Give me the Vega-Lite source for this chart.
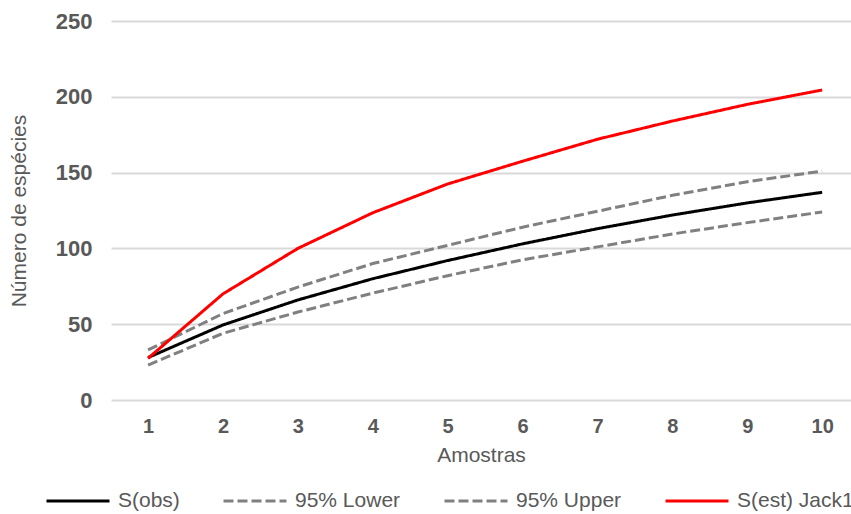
{
  "$schema": "https://vega.github.io/schema/vega-lite/v6.json",
  "width": 740,
  "height": 379,
  "autosize": {"type": "none"},
  "padding": {"left": 111, "top": 21, "right": 0, "bottom": 114},
  "background": "white",
  "config": {
    "view": {"stroke": null},
    "font": "Liberation Sans"
  },
  "data": {
    "values": [
      {"amostra": 1, "serie": "S(obs)", "valor": 28},
      {"amostra": 2, "serie": "S(obs)", "valor": 49.5},
      {"amostra": 3, "serie": "S(obs)", "valor": 66},
      {"amostra": 4, "serie": "S(obs)", "valor": 80},
      {"amostra": 5, "serie": "S(obs)", "valor": 92},
      {"amostra": 6, "serie": "S(obs)", "valor": 103},
      {"amostra": 7, "serie": "S(obs)", "valor": 113},
      {"amostra": 8, "serie": "S(obs)", "valor": 122},
      {"amostra": 9, "serie": "S(obs)", "valor": 130},
      {"amostra": 10, "serie": "S(obs)", "valor": 137},
      {"amostra": 1, "serie": "95% Lower", "valor": 23},
      {"amostra": 2, "serie": "95% Lower", "valor": 44},
      {"amostra": 3, "serie": "95% Lower", "valor": 58},
      {"amostra": 4, "serie": "95% Lower", "valor": 70.5},
      {"amostra": 5, "serie": "95% Lower", "valor": 82},
      {"amostra": 6, "serie": "95% Lower", "valor": 92.5},
      {"amostra": 7, "serie": "95% Lower", "valor": 101},
      {"amostra": 8, "serie": "95% Lower", "valor": 109.5},
      {"amostra": 9, "serie": "95% Lower", "valor": 117},
      {"amostra": 10, "serie": "95% Lower", "valor": 124},
      {"amostra": 1, "serie": "95% Upper", "valor": 33},
      {"amostra": 2, "serie": "95% Upper", "valor": 57},
      {"amostra": 3, "serie": "95% Upper", "valor": 74.5},
      {"amostra": 4, "serie": "95% Upper", "valor": 90},
      {"amostra": 5, "serie": "95% Upper", "valor": 102},
      {"amostra": 6, "serie": "95% Upper", "valor": 114},
      {"amostra": 7, "serie": "95% Upper", "valor": 124.5},
      {"amostra": 8, "serie": "95% Upper", "valor": 135},
      {"amostra": 9, "serie": "95% Upper", "valor": 144},
      {"amostra": 10, "serie": "95% Upper", "valor": 151},
      {"amostra": 1, "serie": "S(est) Jack1", "valor": 27.5},
      {"amostra": 2, "serie": "S(est) Jack1", "valor": 70},
      {"amostra": 3, "serie": "S(est) Jack1", "valor": 100},
      {"amostra": 4, "serie": "S(est) Jack1", "valor": 123.5},
      {"amostra": 5, "serie": "S(est) Jack1", "valor": 142.5},
      {"amostra": 6, "serie": "S(est) Jack1", "valor": 157.5},
      {"amostra": 7, "serie": "S(est) Jack1", "valor": 172},
      {"amostra": 8, "serie": "S(est) Jack1", "valor": 184},
      {"amostra": 9, "serie": "S(est) Jack1", "valor": 195},
      {"amostra": 10, "serie": "S(est) Jack1", "valor": 204.5}
    ]
  },
  "mark": {"type": "line", "strokeWidth": 3, "strokeCap": "butt"},
  "encoding": {
    "x": {
      "field": "amostra",
      "type": "quantitative",
      "scale": {"domain": [0.505, 10.385], "nice": false, "zero": false},
      "axis": {
        "title": "Amostras",
        "values": [1, 2, 3, 4, 5, 6, 7, 8, 9, 10],
        "format": "d",
        "grid": false,
        "domain": false,
        "ticks": false,
        "tickSize": 0,
        "labelFont": "Liberation Sans",
        "labelFontWeight": "bold",
        "labelFontSize": 20,
        "labelColor": "#595959",
        "labelPadding": 16,
        "titleFont": "Liberation Sans",
        "titleFontWeight": "normal",
        "titleFontSize": 21,
        "titleColor": "#595959",
        "titlePadding": 8
      }
    },
    "y": {
      "field": "valor",
      "type": "quantitative",
      "scale": {"domain": [0, 250], "nice": false},
      "axis": {
        "title": "Número de espécies",
        "values": [0, 50, 100, 150, 200, 250],
        "grid": true,
        "gridColor": "#d9d9d9",
        "gridWidth": 2,
        "domain": false,
        "ticks": false,
        "tickSize": 0,
        "labelFont": "Liberation Sans",
        "labelFontWeight": "bold",
        "labelFontSize": 22,
        "labelColor": "#595959",
        "labelPadding": 19,
        "titleFont": "Liberation Sans",
        "titleFontWeight": "normal",
        "titleFontSize": 21,
        "titleColor": "#595959",
        "titlePadding": 26
      }
    },
    "color": {
      "field": "serie",
      "type": "nominal",
      "sort": ["S(obs)", "95% Lower", "95% Upper", "S(est) Jack1"],
      "scale": {
        "domain": ["S(obs)", "95% Lower", "95% Upper", "S(est) Jack1"],
        "range": ["#000000", "#808080", "#808080", "#ff0000"]
      },
      "legend": {
        "title": null,
        "orient": "none",
        "direction": "horizontal",
        "legendX": -66,
        "legendY": 447,
        "padding": 0,
        "symbolType": "stroke",
        "symbolSize": 3969,
        "symbolStrokeWidth": 3,
        "labelFont": "Liberation Sans",
        "labelFontSize": 21,
        "labelColor": "#595959",
        "labelOffset": 7,
        "labelLimit": 300,
        "columnPadding": 37
      }
    },
    "strokeDash": {
      "field": "serie",
      "type": "nominal",
      "sort": ["S(obs)", "95% Lower", "95% Upper", "S(est) Jack1"],
      "scale": {
        "domain": ["S(obs)", "95% Lower", "95% Upper", "S(est) Jack1"],
        "range": [[1, 0], [10, 4], [10, 4], [1, 0]]
      }
    }
  }
}
